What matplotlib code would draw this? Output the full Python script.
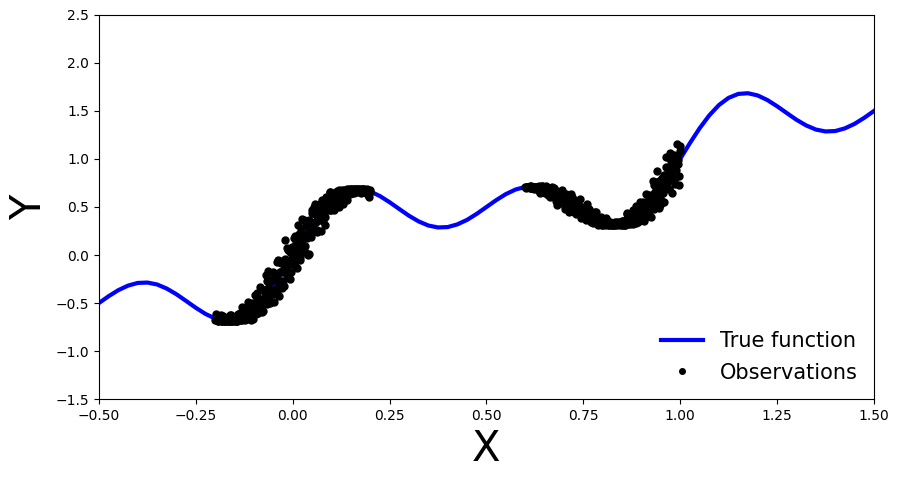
import matplotlib
matplotlib.use("Agg")
import matplotlib.pyplot as plt

# true function
x_true = [-0.5, -0.475, -0.45, -0.425, -0.4, -0.375, -0.35, -0.325, -0.3, -0.275,
          -0.25, -0.225, -0.2, -0.175, -0.15, -0.125, -0.1, -0.075, -0.05, -0.025,
          0.0, 0.025, 0.05, 0.075, 0.1, 0.125, 0.15, 0.175, 0.2, 0.225,
          0.25, 0.275, 0.3, 0.325, 0.35, 0.375, 0.4, 0.425, 0.45, 0.475,
          0.5, 0.525, 0.55, 0.575, 0.6, 0.625, 0.65, 0.675, 0.7, 0.725,
          0.75, 0.775, 0.8, 0.825, 0.85, 0.875, 0.9, 0.925, 0.95, 0.975,
          1.0, 1.025, 1.05, 1.075, 1.1, 1.125, 1.15, 1.175, 1.2, 1.225,
          1.25, 1.275, 1.3, 1.325, 1.35, 1.375, 1.4, 1.425, 1.45, 1.475, 1.5]
y_true = [-0.5, -0.429, -0.366, -0.319, -0.291, -0.287, -0.307, -0.350, -0.409, -0.479,
          -0.55, -0.614, -0.662, -0.685, -0.678, -0.637, -0.562, -0.454, -0.319, -0.165,
          0.0, 0.165, 0.319, 0.454, 0.562, 0.637, 0.678, 0.685, 0.662, 0.614,
          0.55, 0.479, 0.409, 0.350, 0.307, 0.287, 0.291, 0.319, 0.366, 0.429,
          0.5, 0.571, 0.634, 0.682, 0.709, 0.713, 0.693, 0.650, 0.591, 0.521,
          0.45, 0.386, 0.338, 0.315, 0.322, 0.363, 0.438, 0.546, 0.681, 0.835,
          1.0, 1.165, 1.319, 1.454, 1.562, 1.637, 1.678, 1.685, 1.662, 1.614,
          1.55, 1.479, 1.409, 1.350, 1.307, 1.287, 1.291, 1.319, 1.366, 1.429, 1.5]

# observations, left cluster
x_obs1 = [-0.2, -0.1975, -0.195, -0.1925, -0.19, -0.1875, -0.185, -0.1825, -0.18, -0.1775,
          -0.175, -0.1725, -0.17, -0.1675, -0.165, -0.1625, -0.16, -0.1575, -0.155, -0.1525,
          -0.15, -0.1475, -0.145, -0.1425, -0.14, -0.1375, -0.135, -0.1325, -0.13, -0.1275,
          -0.125, -0.1225, -0.12, -0.1175, -0.115, -0.1125, -0.11, -0.1075, -0.105, -0.1025,
          -0.1, -0.0975, -0.095, -0.0925, -0.09, -0.0875, -0.085, -0.0825, -0.08, -0.0775,
          -0.075, -0.0725, -0.07, -0.0675, -0.065, -0.0625, -0.06, -0.0575, -0.055, -0.0525,
          -0.05, -0.0475, -0.045, -0.0425, -0.04, -0.0375, -0.035, -0.0325, -0.03, -0.0275,
          -0.025, -0.0225, -0.02, -0.0175, -0.015, -0.0125, -0.01, -0.0075, -0.005, -0.0025,
          0.0, 0.0025, 0.005, 0.0075, 0.01, 0.0125, 0.015, 0.0175, 0.02, 0.0225,
          0.025, 0.0275, 0.03, 0.0325, 0.035, 0.0375, 0.04, 0.0425, 0.045, 0.0475,
          0.05, 0.0525, 0.055, 0.0575, 0.06, 0.0625, 0.065, 0.0675, 0.07, 0.0725,
          0.075, 0.0775, 0.08, 0.0825, 0.085, 0.0875, 0.09, 0.0925, 0.095, 0.0975,
          0.1, 0.1025, 0.105, 0.1075, 0.11, 0.1125, 0.115, 0.1175, 0.12, 0.1225,
          0.125, 0.1275, 0.13, 0.1325, 0.135, 0.1375, 0.14, 0.1425, 0.145, 0.1475,
          0.15, 0.1525, 0.155, 0.1575, 0.16, 0.1625, 0.165, 0.1675, 0.17, 0.1725,
          0.175, 0.1775, 0.18, 0.1825, 0.185, 0.1875, 0.19, 0.1925, 0.195, 0.1975, 0.2,
          -0.19875, -0.19625, -0.19375, -0.19125, -0.18875, -0.18625, -0.18375, -0.18125, -0.17875, -0.17625,
          -0.17375, -0.17125, -0.16875, -0.16625, -0.16375, -0.16125, -0.15875, -0.15625, -0.15375, -0.15125,
          -0.14875, -0.14625, -0.14375, -0.14125, -0.13875, -0.13625, -0.13375, -0.13125, -0.12875, -0.12625,
          -0.12375, -0.12125, -0.11875, -0.11625, -0.11375, -0.11125, -0.10875, -0.10625, -0.10375, -0.10125,
          -0.09875, -0.09625, -0.09375, -0.09125, -0.08875, -0.08625, -0.08375, -0.08125, -0.07875, -0.07625,
          -0.07375, -0.07125, -0.06875, -0.06625, -0.06375, -0.06125, -0.05875, -0.05625, -0.05375, -0.05125,
          -0.04875, -0.04625, -0.04375, -0.04125, -0.03875, -0.03625, -0.03375, -0.03125, -0.02875, -0.02625,
          -0.02375, -0.02125, -0.01875, -0.01625, -0.01375, -0.01125, -0.00875, -0.00625, -0.00375, -0.00125,
          0.00125, 0.00375, 0.00625, 0.00875, 0.01125, 0.01375, 0.01625, 0.01875, 0.02125, 0.02375,
          0.02625, 0.02875, 0.03125, 0.03375, 0.03625, 0.03875, 0.04125, 0.04375, 0.04625, 0.04875,
          0.05125, 0.05375, 0.05625, 0.05875, 0.06125, 0.06375, 0.06625, 0.06875, 0.07125, 0.07375,
          0.07625, 0.07875, 0.08125, 0.08375, 0.08625, 0.08875, 0.09125, 0.09375, 0.09625, 0.09875,
          0.10125, 0.10375, 0.10625, 0.10875, 0.11125, 0.11375, 0.11625, 0.11875, 0.12125, 0.12375,
          0.12625, 0.12875, 0.13125, 0.13375, 0.13625, 0.13875, 0.14125, 0.14375, 0.14625, 0.14875,
          0.15125, 0.15375, 0.15625, 0.15875, 0.16125, 0.16375, 0.16625, 0.16875, 0.17125, 0.17375,
          0.17625, 0.17875, 0.18125, 0.18375, 0.18625, 0.18875, 0.19125, 0.19375, 0.19625, 0.19875]
y_obs1 = [-0.677, -0.619, -0.672, -0.685, -0.664, -0.654, -0.686, -0.684, -0.633, -0.686,
          -0.684, -0.672, -0.675, -0.683, -0.685, -0.630, -0.686, -0.665, -0.679, -0.679,
          -0.655, -0.685, -0.683, -0.658, -0.613, -0.667, -0.634, -0.680, -0.542, -0.660,
          -0.632, -0.662, -0.565, -0.671, -0.592, -0.560, -0.599, -0.672, -0.496, -0.540,
          -0.619, -0.420, -0.562, -0.466, -0.608, -0.512, -0.330, -0.540, -0.459, -0.587,
          -0.364, -0.389, -0.464, -0.268, -0.483, -0.162, -0.392, -0.475, -0.265, -0.389,
          -0.178, -0.489, -0.235, -0.256, -0.375, -0.050, -0.313, -0.175, -0.080, -0.339,
          -0.178, -0.070, 0.158, -0.175, -0.209, 0.050, -0.060, -0.250, 0.020, 0.083,
          -0.040, 0.181, -0.119, 0.122, 0.060, 0.310, 0.013, 0.149, -0.053, 0.268,
          0.113, 0.193, 0.364, 0.090, 0.307, 0.219, 0.000, 0.367, 0.330, 0.238,
          0.438, 0.244, 0.505, 0.344, 0.428, 0.244, 0.423, 0.498, 0.381, 0.441,
          0.569, 0.355, 0.530, 0.310, 0.526, 0.587, 0.491, 0.584, 0.473, 0.660,
          0.514, 0.580, 0.645, 0.480, 0.621, 0.587, 0.649, 0.612, 0.679, 0.577,
          0.639, 0.663, 0.534, 0.680, 0.637, 0.671, 0.686, 0.644, 0.678, 0.636,
          0.685, 0.671, 0.685, 0.642, 0.686, 0.666, 0.684, 0.683, 0.678, 0.677,
          0.685, 0.651, 0.686, 0.673, 0.685, 0.672, 0.646, 0.681, 0.629, 0.669, 0.652,
          -0.671, -0.622, -0.686, -0.658, -0.677, -0.620, -0.686, -0.678, -0.678, -0.668,
          -0.686, -0.685, -0.666, -0.674, -0.684, -0.683, -0.620, -0.685, -0.685, -0.666,
          -0.686, -0.650, -0.685, -0.663, -0.676, -0.600, -0.662, -0.676, -0.623, -0.640,
          -0.678, -0.563, -0.648, -0.488, -0.623, -0.650, -0.568, -0.624, -0.513, -0.666,
          -0.508, -0.559, -0.618, -0.398, -0.553, -0.485, -0.561, -0.474, -0.598, -0.365,
          -0.453, -0.488, -0.208, -0.511, -0.340, -0.419, -0.499, -0.272, -0.368, -0.186,
          -0.411, -0.249, -0.357, -0.075, -0.264, -0.429, -0.182, -0.267, -0.058, -0.267,
          -0.151, -0.320, -0.038, -0.161, 0.068, -0.101, -0.182, 0.032, -0.176, 0.012,
          -0.032, -0.055, 0.203, 0.038, -0.131, 0.144, 0.218, -0.022, 0.108, 0.374,
          0.081, 0.199, 0.028, 0.334, 0.179, 0.318, 0.008, 0.318, 0.186, 0.467,
          0.320, 0.245, 0.424, 0.529, 0.343, 0.257, 0.429, 0.362, 0.531, 0.251,
          0.502, 0.462, 0.547, 0.401, 0.606, 0.490, 0.469, 0.541, 0.656, 0.467,
          0.535, 0.628, 0.464, 0.607, 0.547, 0.662, 0.614, 0.504, 0.654, 0.623,
          0.682, 0.601, 0.627, 0.666, 0.597, 0.681, 0.573, 0.674, 0.685, 0.657,
          0.685, 0.648, 0.673, 0.678, 0.683, 0.680, 0.660, 0.680, 0.686, 0.682,
          0.658, 0.681, 0.685, 0.665, 0.668, 0.652, 0.685, 0.671, 0.609, 0.673]

# observations, right cluster
x_obs2 = [0.6, 0.6025, 0.605, 0.6075, 0.61, 0.6125, 0.615, 0.6175, 0.62, 0.6225,
          0.625, 0.6275, 0.63, 0.6325, 0.635, 0.6375, 0.64, 0.6425, 0.645, 0.6475,
          0.65, 0.6525, 0.655, 0.6575, 0.66, 0.6625, 0.665, 0.6675, 0.67, 0.6725,
          0.675, 0.6775, 0.68, 0.6825, 0.685, 0.6875, 0.69, 0.6925, 0.695, 0.6975,
          0.7, 0.7025, 0.705, 0.7075, 0.71, 0.7125, 0.715, 0.7175, 0.72, 0.7225,
          0.725, 0.7275, 0.73, 0.7325, 0.735, 0.7375, 0.74, 0.7425, 0.745, 0.7475,
          0.75, 0.7525, 0.755, 0.7575, 0.76, 0.7625, 0.765, 0.7675, 0.77, 0.7725,
          0.775, 0.7775, 0.78, 0.7825, 0.785, 0.7875, 0.79, 0.7925, 0.795, 0.7975,
          0.8, 0.8025, 0.805, 0.8075, 0.81, 0.8125, 0.815, 0.8175, 0.82, 0.8225,
          0.825, 0.8275, 0.83, 0.8325, 0.835, 0.8375, 0.84, 0.8425, 0.845, 0.8475,
          0.85, 0.8525, 0.855, 0.8575, 0.86, 0.8625, 0.865, 0.8675, 0.87, 0.8725,
          0.875, 0.8775, 0.88, 0.8825, 0.885, 0.8875, 0.89, 0.8925, 0.895, 0.8975,
          0.9, 0.9025, 0.905, 0.9075, 0.91, 0.9125, 0.915, 0.9175, 0.92, 0.9225,
          0.925, 0.9275, 0.93, 0.9325, 0.935, 0.9375, 0.94, 0.9425, 0.945, 0.9475,
          0.95, 0.9525, 0.955, 0.9575, 0.96, 0.9625, 0.965, 0.9675, 0.97, 0.9725,
          0.975, 0.9775, 0.98, 0.9825, 0.985, 0.9875, 0.99, 0.9925, 0.995, 0.9975, 1.0,
          0.60125, 0.60375, 0.60625, 0.60875, 0.61125, 0.61375, 0.61625, 0.61875, 0.62125, 0.62375,
          0.62625, 0.62875, 0.63125, 0.63375, 0.63625, 0.63875, 0.64125, 0.64375, 0.64625, 0.64875,
          0.65125, 0.65375, 0.65625, 0.65875, 0.66125, 0.66375, 0.66625, 0.66875, 0.67125, 0.67375,
          0.67625, 0.67875, 0.68125, 0.68375, 0.68625, 0.68875, 0.69125, 0.69375, 0.69625, 0.69875,
          0.70125, 0.70375, 0.70625, 0.70875, 0.71125, 0.71375, 0.71625, 0.71875, 0.72125, 0.72375,
          0.72625, 0.72875, 0.73125, 0.73375, 0.73625, 0.73875, 0.74125, 0.74375, 0.74625, 0.74875,
          0.75125, 0.75375, 0.75625, 0.75875, 0.76125, 0.76375, 0.76625, 0.76875, 0.77125, 0.77375,
          0.77625, 0.77875, 0.78125, 0.78375, 0.78625, 0.78875, 0.79125, 0.79375, 0.79625, 0.79875,
          0.80125, 0.80375, 0.80625, 0.80875, 0.81125, 0.81375, 0.81625, 0.81875, 0.82125, 0.82375,
          0.82625, 0.82875, 0.83125, 0.83375, 0.83625, 0.83875, 0.84125, 0.84375, 0.84625, 0.84875,
          0.85125, 0.85375, 0.85625, 0.85875, 0.86125, 0.86375, 0.86625, 0.86875, 0.87125, 0.87375,
          0.87625, 0.87875, 0.88125, 0.88375, 0.88625, 0.88875, 0.89125, 0.89375, 0.89625, 0.89875,
          0.90125, 0.90375, 0.90625, 0.90875, 0.91125, 0.91375, 0.91625, 0.91875, 0.92125, 0.92375,
          0.92625, 0.92875, 0.93125, 0.93375, 0.93625, 0.93875, 0.94125, 0.94375, 0.94625, 0.94875,
          0.95125, 0.95375, 0.95625, 0.95875, 0.96125, 0.96375, 0.96625, 0.96875, 0.97125, 0.97375,
          0.97625, 0.97875, 0.98125, 0.98375, 0.98625, 0.98875, 0.99125, 0.99375, 0.99625, 0.99875]
y_obs2 = [0.711, 0.709, 0.711, 0.706, 0.711, 0.714, 0.701, 0.713, 0.712, 0.691,
          0.713, 0.701, 0.713, 0.701, 0.711, 0.657, 0.701, 0.714, 0.681, 0.704,
          0.663, 0.710, 0.677, 0.700, 0.626, 0.661, 0.686, 0.620, 0.709, 0.632,
          0.648, 0.679, 0.558, 0.638, 0.588, 0.634, 0.594, 0.668, 0.538, 0.590,
          0.622, 0.474, 0.619, 0.531, 0.583, 0.499, 0.532, 0.632, 0.500, 0.587,
          0.445, 0.514, 0.532, 0.451, 0.481, 0.557, 0.450, 0.479, 0.384, 0.499,
          0.393, 0.474, 0.418, 0.390, 0.536, 0.428, 0.380, 0.454, 0.342, 0.387,
          0.406, 0.344, 0.445, 0.360, 0.393, 0.316, 0.357, 0.334, 0.393, 0.317,
          0.349, 0.320, 0.323, 0.383, 0.325, 0.314, 0.342, 0.328, 0.341, 0.314,
          0.316, 0.336, 0.321, 0.315, 0.318, 0.348, 0.318, 0.319, 0.327, 0.323,
          0.359, 0.317, 0.351, 0.314, 0.331, 0.440, 0.321, 0.416, 0.339, 0.383,
          0.411, 0.320, 0.386, 0.354, 0.514, 0.396, 0.345, 0.468, 0.404, 0.554,
          0.381, 0.480, 0.551, 0.352, 0.474, 0.549, 0.527, 0.406, 0.619, 0.468,
          0.556, 0.516, 0.772, 0.484, 0.659, 0.590, 0.765, 0.678, 0.486, 0.595,
          0.778, 0.702, 0.551, 0.838, 0.705, 1.017, 0.705, 0.845, 0.687, 0.997,
          0.822, 0.944, 0.647, 0.917, 1.046, 0.806, 0.881, 1.153, 0.987, 0.819, 1.080,
          0.693, 0.709, 0.709, 0.713, 0.698, 0.714, 0.694, 0.712, 0.713, 0.704,
          0.700, 0.705, 0.713, 0.678, 0.714, 0.646, 0.705, 0.714, 0.677, 0.705,
          0.651, 0.714, 0.669, 0.675, 0.702, 0.607, 0.690, 0.650, 0.619, 0.695,
          0.651, 0.615, 0.520, 0.650, 0.661, 0.567, 0.611, 0.674, 0.579, 0.553,
          0.603, 0.510, 0.632, 0.536, 0.563, 0.451, 0.582, 0.525, 0.608, 0.470,
          0.540, 0.504, 0.426, 0.551, 0.452, 0.493, 0.588, 0.424, 0.441, 0.484,
          0.390, 0.482, 0.361, 0.435, 0.395, 0.482, 0.398, 0.364, 0.418, 0.389,
          0.334, 0.430, 0.350, 0.451, 0.352, 0.328, 0.367, 0.329, 0.375, 0.314,
          0.357, 0.330, 0.315, 0.372, 0.318, 0.328, 0.314, 0.320, 0.326, 0.331,
          0.315, 0.315, 0.348, 0.328, 0.315, 0.318, 0.348, 0.315, 0.324, 0.315,
          0.352, 0.318, 0.352, 0.315, 0.340, 0.430, 0.335, 0.373, 0.324, 0.400,
          0.364, 0.469, 0.350, 0.410, 0.338, 0.414, 0.479, 0.383, 0.519, 0.424,
          0.467, 0.503, 0.379, 0.485, 0.637, 0.461, 0.435, 0.629, 0.552, 0.397,
          0.626, 0.555, 0.730, 0.498, 0.655, 0.560, 0.876, 0.612, 0.767, 0.522,
          0.695, 0.802, 0.643, 0.550, 0.792, 0.919, 0.755, 0.866, 0.683, 1.058,
          0.786, 0.873, 0.780, 1.018, 0.736, 0.965, 1.028, 0.952, 0.730, 1.131]

fig = plt.figure(figsize=(8.99, 4.79), dpi=100)
ax = fig.add_axes([0.1101, 0.167, 0.862, 0.8017])

ax.plot(x_true, y_true, color="blue", lw=3, label="True function")
ax.plot(x_obs1 + x_obs2, y_obs1 + y_obs2, "ko", markersize=5, label="Observations")

ax.set_xlim(-0.5, 1.5)
ax.set_ylim(-1.5, 2.5)
ax.set_xlabel("X", fontsize=30)
ax.set_ylabel("Y", fontsize=30)
ax.legend(loc="lower right", fontsize=15, frameon=False, labelspacing=0.55,
          borderaxespad=0.38, markerscale=0.8)

fig.savefig("out.png", dpi=100)
